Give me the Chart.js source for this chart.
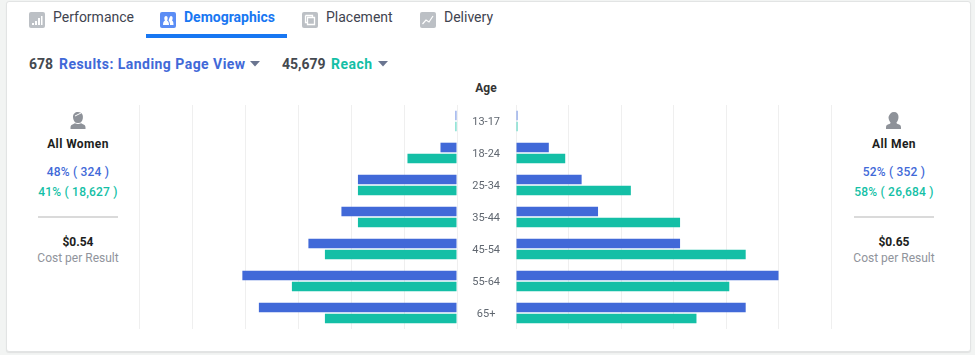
<!DOCTYPE html>
<html><head><meta charset="utf-8">
<script src="https://cdn.jsdelivr.net/npm/chart.js@4"></script>
<style>
html,body{margin:0;padding:0;background:#f2f4f3;width:975px;height:355px;overflow:hidden;font-family:Roboto,sans-serif}
#card{position:absolute;left:6px;top:1px;width:963px;height:349px;background:#fff;border:1px solid #e2e4e4;border-radius:3px;box-shadow:0 1px 1px #e0e2e2}
.t{position:absolute;white-space:nowrap;line-height:16px}
.c{transform:translateX(-50%);text-align:center}
.tab{font-size:14px;color:#3f4450;top:9px}
.b{font-weight:700}
.blue{color:#4169d8}.green{color:#14bfa6}
.sp{letter-spacing:.46px}
.st{letter-spacing:.2px}
svg{position:absolute}
canvas{position:absolute}
.rule{position:absolute;width:80px;height:2px;background:#dadada;top:216px}
</style></head><body>
<div id="card"></div>

<svg style="left:29px;top:12px" width="16" height="16"><rect width="16" height="16" rx="2" fill="#bcc0c5"/><path fill="#fff" d="M3 11h2v2H3zM6 9h2v4H6zM9 6h2v7H9zM12 4h1.500v9H12z"/></svg>
<div class="t tab" style="left:53px">Performance</div>
<svg style="left:160px;top:12px" width="16" height="16"><rect width="16" height="16" rx="2" fill="#5b8df5"/><path fill="#fff" d="M3 13c0-3 1-4 2-4.500C4 7 4 4 6 4s2 3 1 4.500c1 .5 2 1.500 2 4.500zM10 13c0-2-.5-3.500-1.500-4.800C9.500 7 9.500 4 11 4c2 0 2 3 1 4.500 1 .5 1.500 1.500 1.500 4.500z"/></svg>
<div class="t tab b" style="left:184px;color:#1877f2">Demographics</div>
<div style="position:absolute;left:146px;top:34px;width:141px;height:4px;background:#1877f2"></div>
<svg style="left:302px;top:12px" width="16" height="16"><rect width="16" height="16" rx="2" fill="#bcc0c5"/><path fill="none" stroke="#fff" stroke-width="1.300" d="M3.500 3.500h7v2M5.500 5.500h7v7h-7zM3.500 3.500v7h2"/></svg>
<div class="t tab" style="left:326px">Placement</div>
<svg style="left:420px;top:12px" width="16" height="16"><rect width="16" height="16" rx="2" fill="#bcc0c5"/><path fill="none" stroke="#fff" stroke-width="1.200" d="M2.500 12l3.500-4 3 2 4-6"/></svg>
<div class="t tab" style="left:444px">Delivery</div>

<div class="t b" style="left:29px;top:56px;font-size:14px;color:#444950">678</div>
<div class="t b blue sp" style="left:59px;top:56px;font-size:14px">Results: Landing Page View</div>
<svg style="left:250px;top:61px" width="11" height="6"><path d="M0 0h10l-5 5.500z" fill="#6a7590"/></svg>
<div class="t b" style="left:282px;top:56px;font-size:14px;color:#444950">45,679</div>
<div class="t b green sp" style="left:331px;top:56px;font-size:14px">Reach</div>
<svg style="left:378px;top:61px" width="11" height="6"><path d="M0 0h10l-5 5.500z" fill="#6a7590"/></svg>
<div class="t b c" style="left:486px;top:80px;font-size:12px;color:#333">Age</div>

<svg style="left:70px;top:112px" width="16" height="17"><path fill="#8e9299" d="M8 0c4 0 5.500 3 4.800 6.500-.2 1.500-1 3-1.800 3.800 0 1 .5 1.500 2 2 1.500.6 2.500 1.300 2.500 3.200V17H.5v-1.500c0-1.900 1-2.600 2.500-3.200 1.500-.5 2-1 2-2C4 9 3 7 3 5 3 2 5 0 8 0z"/><path fill="none" stroke="#fff" d="M5 4l6-3M4 10c2 2 6 2 8 0"/></svg>
<div class="t b c st" style="left:78px;top:136px;font-size:12px;letter-spacing:.4px;color:#1c1e21">All Women</div>
<div class="t c blue st" style="left:78px;top:164px;font-size:12px;font-weight:500">48% ( 324 )</div>
<div class="t c green st" style="left:78px;top:184px;font-size:12px;font-weight:500">41% ( 18,627 )</div>
<div class="rule" style="left:38px"></div>
<div class="t b c" style="left:78px;top:234px;font-size:12px;color:#1c1e21">$0.54</div>
<div class="t c" style="left:78px;top:250px;font-size:12px;color:#90949c">Cost per Result</div>

<svg style="left:886px;top:112px" width="16" height="17"><path fill="#8e9299" d="M8 0c3 0 4.500 2 4.500 5 0 2.500-1 4.500-2 5.500 0 1 .5 1.300 2 1.800 1.700.6 2.500 1.300 2.500 3.200V17H0v-1.500c0-1.900.8-2.600 2.500-3.200 1.500-.5 2-.8 2-1.800-1-1-2-3-2-5.500C3.500 2 5 0 8 0z"/></svg>
<div class="t b c st" style="left:894px;top:136px;font-size:12px;letter-spacing:.4px;color:#1c1e21">All Men</div>
<div class="t c blue st" style="left:894px;top:164px;font-size:12px;font-weight:500">52% ( 352 )</div>
<div class="t c green st" style="left:894px;top:184px;font-size:12px;font-weight:500">58% ( 26,684 )</div>
<div class="rule" style="left:854px"></div>
<div class="t b c" style="left:894px;top:234px;font-size:12px;color:#1c1e21">$0.65</div>
<div class="t c" style="left:894px;top:250px;font-size:12px;color:#90949c">Cost per Result</div>

<canvas id="women" width="337" height="244" style="left:130px;top:95px"></canvas>
<canvas id="men" width="385" height="244" style="left:456px;top:95px"></canvas>

<script>
const ageGroups = ["13-17","18-24","25-34","35-44","45-54","55-64","65+"];
const womenResults = [0.1,1,6,7,9,13,12];
const womenReach   = [0.1,3,6,6,8,10,8];
const menResults   = [0.1,2,4,5,10,16,14];
const menReach     = [0.1,3,7,10,14,13,11];
const axisMax = 19.2;
const axisStep = 3.2;
const BLUE = "#4169d8", GREEN = "#14bfa6", GRID = "#efefef";
const BLUE_FAINT = "#7f9be6", GREEN_FAINT = "#5fd6c4";

function fill(solid, faint){
  return ctx => ctx.raw < 0.5 ? faint : solid;
}
function build(id, results, reach, isMen){
  const common = { categoryPercentage: 0.6875, barPercentage: 9.6 / 11 };
  return new Chart(document.getElementById(id), {
    type: "bar",
    data: { labels: ageGroups, datasets: [
      { label: "Results: Landing Page View", data: results, backgroundColor: fill(BLUE, BLUE_FAINT), ...common },
      { label: "Reach", data: reach, backgroundColor: fill(GREEN, GREEN_FAINT), ...common }
    ]},
    options: {
      indexAxis: "y", responsive: false, animation: false,
      layout: { padding: { left: isMen ? 0 : 10, right: 10, top: 10, bottom: 10 } },
      plugins: { legend: { display: false }, tooltip: { enabled: false } },
      scales: {
        x: { min: 0, max: axisMax, reverse: !isMen,
             afterBuildTicks(s){ s.ticks = []; for (let i = 0; i <= 6; i++) s.ticks.push({ value: i * axisStep }); },
             ticks: { display: false },
             border: { display: false },
             grid: { color: GRID, lineWidth: 1, drawTicks: false } },
        y: { display: isMen,
             afterFit(s){ if (isMen) { s.width = 60; s.paddingTop = 0; s.paddingBottom = 0; } },
             ticks: { color: "#606770", font: { family: "Roboto", size: 11 }, crossAlign: "center", padding: 16, labelOffset: 1 },
             border: { display: false },
             grid: { display: false, drawTicks: false } }
      }
    }
  });
}
build("women", womenResults, womenReach, false);
build("men", menResults, menReach, true);
</script>
</body></html>
